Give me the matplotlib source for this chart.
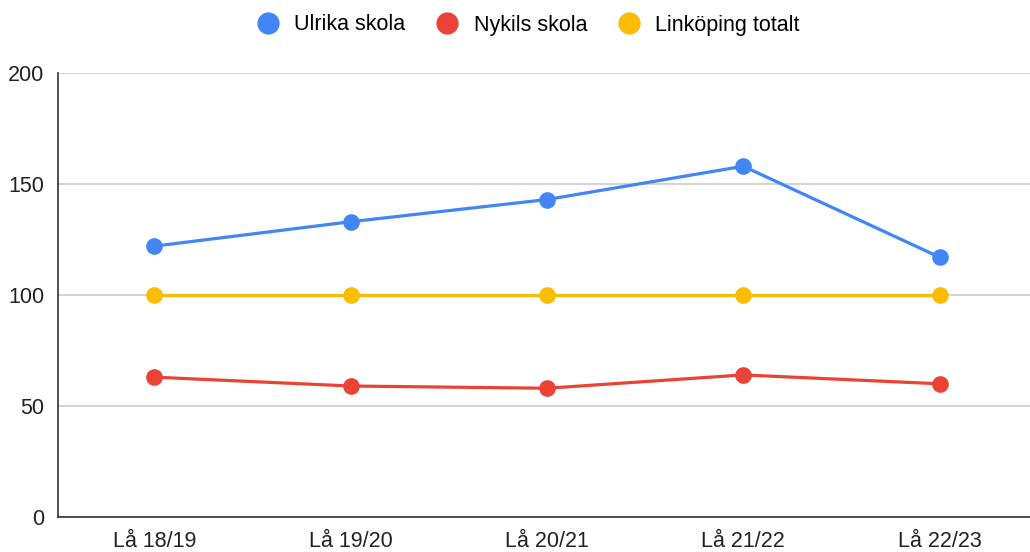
import matplotlib.pyplot as plt
from matplotlib.lines import Line2D

plt.rcParams['font.family'] = ['Liberation Sans', 'DejaVu Sans']

seasons = ["Lå 18/19", "Lå 19/20", "Lå 20/21", "Lå 21/22", "Lå 22/23"]
ulrika = [122, 133, 143, 158, 117]
nykils = [63, 59, 58, 64, 60]
linkoping = [100, 100, 100, 100, 100]

series = [
    ("Ulrika skola", ulrika, "#4285F4"),
    ("Nykils skola", nykils, "#EA4335"),
    ("Linköping totalt", linkoping, "#FBBC04"),
]

fig = plt.figure(figsize=(10.3, 5.52), dpi=100)
ax = fig.add_axes([58 / 1030, 1 - 517 / 552, 1 - 58 / 1030, 444 / 552])

x = list(range(len(seasons)))
# yellow first so blue/red sit on top like the original
for name, vals, col in [series[2], series[1], series[0]]:
    ax.plot(x, vals, color=col, lw=2.3, marker='o', ms=12,
            markeredgewidth=0, solid_capstyle='round', zorder=3)

ax.set_xlim(-0.49, 4.46)
ax.set_ylim(0, 200)
ax.set_yticks([0, 50, 100, 150, 200])
ax.set_xticks(x)
ax.set_xticklabels(seasons)
ax.tick_params(axis='both', length=0, labelsize=15.5, colors='#222222')
ax.tick_params(axis='y', pad=10)
ax.tick_params(axis='x', pad=10)
ax.grid(axis='y', color='#cccccc', lw=1.2)
ax.set_axisbelow(True)
for s in ['top', 'right']:
    ax.spines[s].set_visible(False)
for s in ['left', 'bottom']:
    ax.spines[s].set_color('#333333')
    ax.spines[s].set_linewidth(1.2)
    ax.spines[s].set_zorder(4)

handles = [Line2D([], [], ls='none', marker='o', ms=16, color=c, markeredgewidth=0)
           for _, _, c in series]
fig.legend(handles, [n for n, _, _ in series], loc='center',
           bbox_to_anchor=(0.512, 1 - 25 / 552), ncol=3, frameon=False,
           fontsize=15.5, handletextpad=0.63, columnspacing=1.33, handlelength=1.2)

fig.savefig("out.png", dpi=100)
